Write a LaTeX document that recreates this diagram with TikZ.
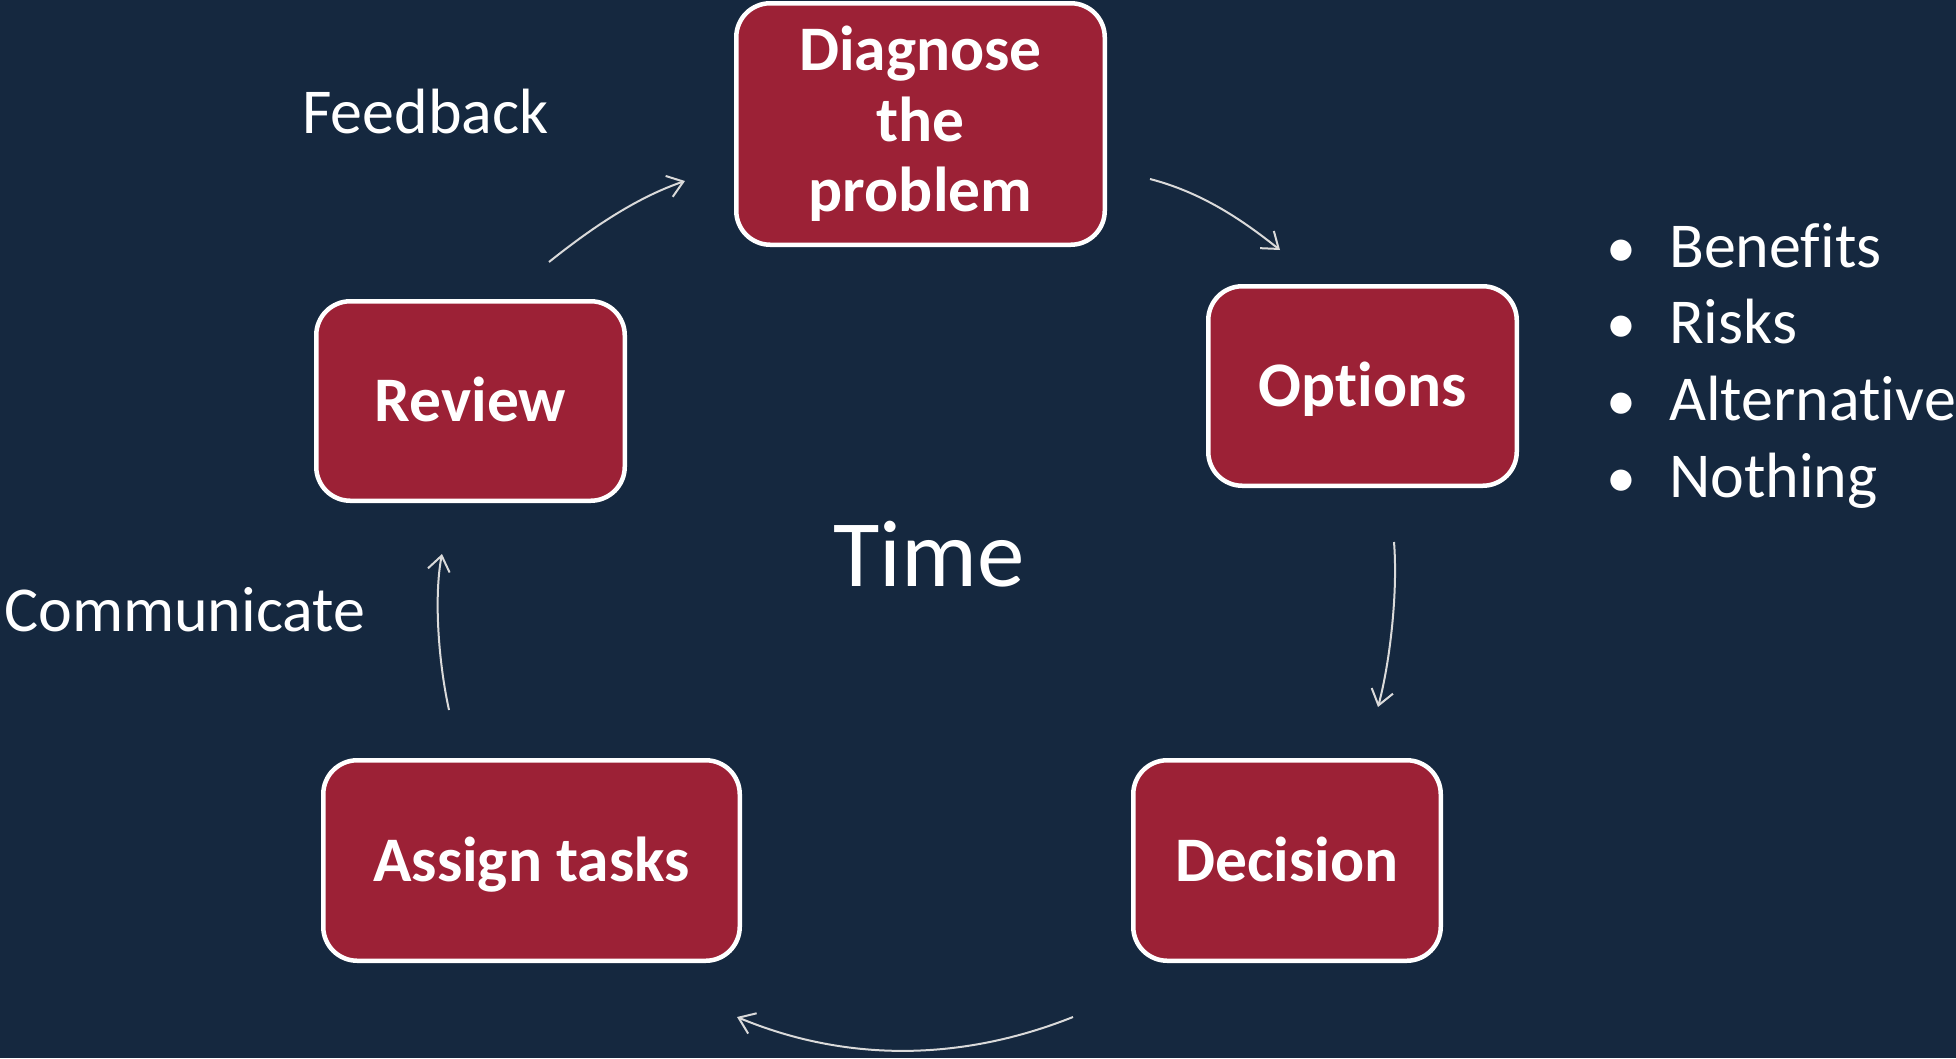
\documentclass[tikz,border=0pt]{standalone}
\usepackage{fontspec}
\setmainfont{Carlito}[Ligatures={NoCommon}]
\usetikzlibrary{arrows.meta}
\definecolor{bg}{HTML}{15283F}
\definecolor{boxred}{HTML}{9C2136}
\definecolor{arr}{HTML}{DADADA}
\newcommand\nolig{\kern0pt\relax}
\begin{document}
\begin{tikzpicture}[x=1pt,y=-1pt,
  stepbox/.style={draw=white, line width=4.5pt, fill=boxred, rounded corners=34pt,
    text=white, font=\fontsize{63.5}{70.5}\selectfont\bfseries, align=center, inner sep=0pt},
  oneline/.style={text height=41pt, text depth=0pt},
  cyc/.style={draw=arr, line width=2pt, -{Straight Barb[length=15pt,width=22pt,line width=2pt]}},
  lbl/.style={text=white, font=\fontsize{64}{74}\selectfont, inner sep=0pt}]
\fill[bg] (0,0) rectangle (1956,1058);
\useasboundingbox (0,0) rectangle (1956,1058);

% boxes
\node[stepbox, minimum width=368.5pt, minimum height=241.5pt] (diag) at (920.5,124) {Diagnose\\the\\problem};
\node[stepbox, oneline, minimum width=308.5pt, minimum height=199.5pt] (opt) at (1362.5,386) {Opt\nolig ions};
\node[stepbox, oneline, minimum width=308.5pt, minimum height=199.5pt] (rev) at (470.5,401) {Review};
\node[stepbox, oneline, minimum width=416.5pt, minimum height=200.5pt] (assign) at (531.5,860.5) {Assign tasks};
\node[stepbox, oneline, minimum width=307.5pt, minimum height=200.5pt] (dec) at (1287,860.5) {Decision};

% labels
\node[lbl, font=\fontsize{95}{100}\selectfont, anchor=base] (time) at (929,586) {Time};
\node[lbl, anchor=base west] (feedback) at (302,133.5) {Feedback};
\node[lbl, anchor=base west] (comm) at (4,631) {Communicate};

\node[lbl, font=\fontsize{60}{74}\selectfont, anchor=base] (b1) at (1621,267) {•};
\node[lbl, font=\fontsize{60}{74}\selectfont, anchor=base] (b2) at (1621,343) {•};
\node[lbl, font=\fontsize{60}{74}\selectfont, anchor=base] (b3) at (1621,420) {•};
\node[lbl, font=\fontsize{60}{74}\selectfont, anchor=base] (b4) at (1621,497) {•};
\node[lbl, anchor=base west] (t1) at (1669,267) {Benef\nolig its};
\node[lbl, anchor=base west] (t2) at (1669,343) {Risks};
\node[lbl, anchor=base west] (t3) at (1669,420) {Alternat\nolig ive};
\node[lbl, anchor=base west] (t4) at (1669,497) {Nothing};

% arrow end points
\coordinate (a1s) at (549,262);  \coordinate (a1e) at (685,181);
\coordinate (a2s) at (1150,179); \coordinate (a2e) at (1280,250);
\coordinate (a3s) at (1394,542); \coordinate (a3e) at (1378,707);
\coordinate (a4s) at (1073,1017);\coordinate (a4e) at (737,1017);
\coordinate (a5s) at (449,710);  \coordinate (a5e) at (442,554);

\draw[cyc] (a1s) .. controls (589,230) and (635,198) .. (a1e);
\draw[cyc] (a2s) .. controls (1200,192) and (1240,218) .. (a2e);
\draw[cyc] (a3s) .. controls (1398,592) and (1390,662) .. (a3e);
\draw[cyc] (a4s) .. controls (960,1062) and (845,1062) .. (a4e);
\draw[cyc] (a5s) .. controls (438,660) and (434,595) .. (a5e);
\end{tikzpicture}
\end{document}
